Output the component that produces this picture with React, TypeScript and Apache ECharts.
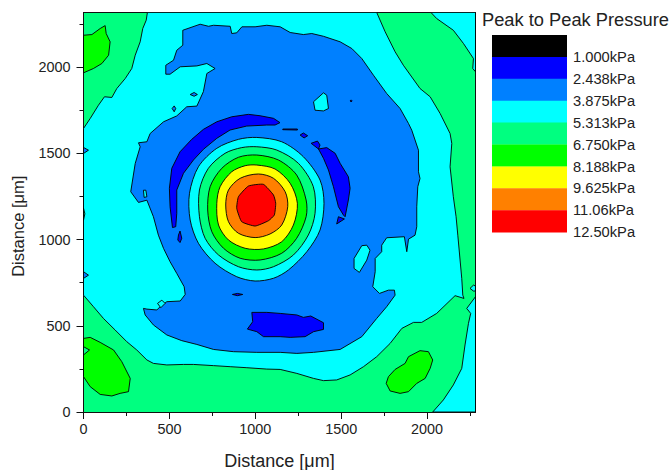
import React, { useEffect, useRef } from "react";
import * as echarts from "echarts";

type P = number[][];

const legendTitle = "Peak to Peak Pressure";
const legendLabels = ["1.000kPa", "2.438kPa", "3.875kPa", "5.313kPa", "6.750kPa", "8.188kPa", "9.625kPa", "11.06kPa", "12.50kPa"];
const legendColors = ["#000000", "#0000FF", "#0080FF", "#00FFFF", "#00FF80", "#00FF00", "#FFFF00", "#FF8000", "#FF0000"];
const majorTicks = [0, 500, 1000, 1500, 2000];
const minorTicksX = [250, 750, 1250, 1750, 2250];
const xMax = 2282;
const yMax = 2318;

const [, DARK, BLUE, CYAN, SPRING, GREEN, YELLOW, ORANGE, RED] = legendColors;

const greenTopLeft: P = [[0,2186],[49,2190],[97,2225],[126,2242],[132,2196],[155,2148],[146,2070],[107,2022],[58,1993],[0,1968]];
const greenBottomLeft: P = [[0,427],[39,433],[97,404],[175,360],[223,292],[272,195],[262,118],[213,108],[165,93],[97,102],[39,147],[0,205]];
const greenBottomRight: P = [[1762,166],[1775,205],[1814,247],[1872,282],[1892,321],[1959,356],[2008,350],[2033,302],[2018,253],[1989,195],[1940,166],[1892,118],[1843,108],[1785,122]];
const springLeftDiamond: P = [[0,379],[35,360],[0,331]];
const cyanMain: P = [[372,2318],[1707,2318],[1756,2206],[1814,2090],[1862,2012],[1959,1877],[2018,1829],[2076,1732],[2134,1616],[2144,1558],[2134,1423],[2153,1249],[2169,1133],[2179,1026],[2202,775],[2208,678],[2215,659],[2163,675],[2056,572],[1969,520],[1921,520],[1853,485],[1785,398],[1707,321],[1630,263],[1552,215],[1474,186],[1397,182],[1339,195],[1242,224],[1145,247],[1067,249],[951,257],[854,263],[757,269],[640,276],[582,276],[485,273],[407,282],[369,302],[310,360],[252,408],[184,476],[116,543],[58,611],[0,678],[0,1645],[39,1703],[87,1780],[122,1829],[165,1825],[194,1877],[243,1935],[281,1993],[301,2070],[330,2148],[345,2225],[365,2273]];
const cyanTopRight: P = [[2023,2318],[2056,2283],[2153,2215],[2212,2138],[2270,2051],[2266,1993],[2282,1974],[2282,2318]];
const cyanBottomRight: P = [[2282,669],[2231,601],[2254,572],[2241,514],[2221,389],[2202,253],[2153,157],[2095,70],[2033,0],[2282,0]];
const cyanRightEdge: P = [[2250,717],[2270,736],[2282,731],[2282,702],[2270,702]];
const springLeftSliver: P = [[0,1183],[8,1150],[0,1113]];
const blueMain: P = [[578,2215],[679,2250],[728,2238],[757,2244],[854,2238],[863,2196],[892,2200],[922,2235],[999,2235],[1067,2244],[1145,2235],[1203,2202],[1280,2190],[1329,2196],[1397,2180],[1494,2148],[1562,2109],[1620,2051],[1688,1954],[1765,1848],[1843,1761],[1892,1674],[1911,1635],[1950,1519],[1950,1394],[1959,1355],[1946,1307],[1940,1191],[1940,1075],[1930,1026],[1892,1003],[1882,930],[1868,1017],[1765,1011],[1736,968],[1736,930],[1698,891],[1698,814],[1684,727],[1723,688],[1775,707],[1810,707],[1814,678],[1765,611],[1707,543],[1620,437],[1494,363],[1339,346],[1242,340],[1145,346],[1009,346],[873,350],[757,363],[660,392],[572,414],[485,447],[407,505],[359,563],[349,601],[369,597],[427,592],[446,611],[485,640],[563,644],[592,682],[586,727],[543,804],[504,872],[466,949],[436,1026],[407,1133],[369,1229],[320,1216],[275,1278],[301,1442],[330,1539],[320,1562],[369,1568],[388,1616],[466,1684],[543,1718],[601,1771],[660,1775],[698,1859],[718,1964],[766,1993],[718,2022],[660,2008],[563,2003],[504,1960],[479,1960],[479,2012],[524,2041],[543,2099],[578,2128]];
const cyanIslandA: P = [[1339,1800],[1397,1852],[1416,1838],[1426,1761],[1397,1747],[1348,1751]];
const cyanIslandB: P = [[1620,965],[1649,968],[1668,939],[1649,881],[1606,810],[1575,833],[1575,891]];
const cyanIslandC: P = [[349,1287],[363,1287],[369,1249],[353,1245]];
const cyanIslandD: P = [[431,630],[456,649],[475,630],[450,605]];
const blueSpotA: P = [[621,1842],[644,1854],[663,1842],[644,1832]];
const blueSpotB: P = [[516,1761],[528,1776],[537,1761],[528,1742]];
const blueEdgeA: P = [[0,1535],[29,1519],[0,1500]];
const blueEdgeB: P = [[0,814],[29,794],[0,775]];
const darkSpot: P = [[1552,1805],[1558,1811],[1564,1805],[1558,1799]];
const darkArcLeft: P = [[1144,1679],[1106,1704],[1028,1719],[960,1727],[863,1713],[776,1684],[698,1640],[630,1582],[562,1510],[514,1414],[500,1298],[504,1191],[518,1070],[537,1075],[543,1153],[543,1288],[582,1385],[640,1462],[698,1524],[776,1588],[853,1636],[950,1659],[1067,1665],[1115,1665]];
const darkLine: P = [[1160,1642],[1245,1642],[1245,1636],[1160,1638]];
const darkDiamond: P = [[1261,1607],[1280,1619],[1305,1603],[1284,1590]];
const darkTriangle: P = [[1325,1559],[1362,1572],[1377,1549],[1368,1526]];
const darkArcRight: P = [[1368,1526],[1416,1534],[1465,1501],[1494,1443],[1542,1365],[1552,1298],[1542,1230],[1523,1133],[1513,1143],[1484,1191],[1455,1307],[1426,1404],[1397,1472]];
const darkTip: P = [[1474,1091],[1484,1133],[1519,1120]];
const darkDrop: P = [[553,1027],[562,1050],[572,1008],[562,983],[549,998]];
const darkBottom: P = [[980,578],[1067,578],[1145,572],[1242,563],[1280,549],[1323,557],[1397,518],[1397,479],[1339,466],[1290,437],[1203,433],[1145,437],[1048,437],[1009,466],[954,481],[985,524]];
const darkSliver: P = [[867,682],[896,688],[927,682],[896,675]];
const ringCyan: P = [[1009,1593],[1154,1568],[1280,1481],[1377,1346],[1400,1211],[1377,1056],[1300,930],[1193,824],[1106,776],[999,760],[892,785],[766,863],[669,979],[621,1114],[617,1269],[669,1423],[776,1530],[902,1582]];
const ringSpring: P = [[1009,1539],[1125,1520],[1251,1443],[1338,1307],[1348,1153],[1309,1027],[1222,911],[1106,843],[1009,824],[902,843],[786,911],[708,1008],[675,1133],[675,1288],[727,1414],[824,1501],[921,1534]];
const ringGreen: P = [[1009,1491],[1135,1462],[1241,1375],[1296,1230],[1296,1133],[1241,1008],[1154,921],[1028,882],[912,892],[815,950],[747,1046],[723,1172],[737,1307],[805,1414],[902,1478]];
const ringYellow: P = [[1009,1433],[1115,1410],[1203,1327],[1245,1211],[1222,1085],[1154,988],[1047,946],[941,950],[844,998],[786,1085],[776,1211],[795,1307],[863,1394],[941,1429]];
const ringOrange: P = [[1018,1381],[1106,1356],[1174,1278],[1189,1191],[1154,1085],[1086,1033],[999,1012],[902,1037],[844,1104],[828,1201],[844,1288],[912,1356]];
const ringRed: P = [[960,1311],[1047,1321],[1106,1259],[1119,1211],[1111,1143],[1077,1110],[999,1079],[921,1104],[892,1182],[902,1249]];

const layers: { color: string; points: P; smooth?: number }[] = [
  { color: GREEN, points: greenTopLeft },
  { color: GREEN, points: greenBottomLeft },
  { color: GREEN, points: greenBottomRight },
  { color: SPRING, points: springLeftDiamond },
  { color: CYAN, points: cyanMain },
  { color: CYAN, points: cyanTopRight },
  { color: CYAN, points: cyanBottomRight },
  { color: CYAN, points: cyanRightEdge },
  { color: SPRING, points: springLeftSliver },
  { color: BLUE, points: blueMain },
  { color: CYAN, points: cyanIslandA },
  { color: CYAN, points: cyanIslandB },
  { color: CYAN, points: cyanIslandC },
  { color: CYAN, points: cyanIslandD },
  { color: BLUE, points: blueSpotA },
  { color: BLUE, points: blueSpotB },
  { color: BLUE, points: blueEdgeA },
  { color: BLUE, points: blueEdgeB },
  { color: DARK, points: darkSpot },
  { color: DARK, points: darkArcLeft },
  { color: DARK, points: darkLine },
  { color: DARK, points: darkDiamond },
  { color: DARK, points: darkTriangle },
  { color: DARK, points: darkArcRight },
  { color: DARK, points: darkTip },
  { color: DARK, points: darkDrop },
  { color: DARK, points: darkBottom },
  { color: DARK, points: darkSliver },
  { color: CYAN, points: ringCyan, smooth: 0.3 },
  { color: SPRING, points: ringSpring, smooth: 0.3 },
  { color: GREEN, points: ringGreen, smooth: 0.3 },
  { color: YELLOW, points: ringYellow, smooth: 0.3 },
  { color: ORANGE, points: ringOrange, smooth: 0.3 },
  { color: RED, points: ringRed, smooth: 0.15 },
];

const FONT = "'Liberation Sans', Arial, sans-serif";
const INK = "#222222";
const GRID = { left: 83.5, top: 12.5, width: 392, height: 399.5 };
const plainNumber = (v: number) => String(v);

export default function App() {
  const ref = useRef<HTMLDivElement>(null);
  useEffect(() => {
    const chart = echarts.init(ref.current!, null, { renderer: "svg" });
    const bandTop = 35;
    const bandH = 21.9;
    const baseAxis = {
      type: "value",
      splitLine: { show: false },
      axisLine: { show: true, onZero: false, lineStyle: { color: "#111", width: 1 } },
    };
    const quiet = { axisLabel: { show: false }, axisTick: { show: false } };
    chart.setOption({
      animation: false,
      backgroundColor: "#fff",
      grid: { ...GRID, show: true, backgroundColor: SPRING, borderWidth: 0, containLabel: false, outerBoundsMode: "none" },
      xAxis: [
        {
          ...baseAxis, min: 0, max: xMax, position: "bottom",
          name: "Distance [\u03bcm]", nameLocation: "middle", nameGap: 40,
          nameTextStyle: { fontFamily: FONT, fontSize: 18, color: INK },
          axisTick: { show: true, length: 7, customValues: majorTicks, lineStyle: { color: "#111" } },
          axisLabel: { show: true, customValues: majorTicks, formatter: plainNumber, margin: 10, fontFamily: FONT, fontSize: 14.4, color: INK },
        },
        {
          ...baseAxis, min: 0, max: xMax, position: "bottom",
          axisTick: { show: true, length: 4, customValues: minorTicksX, lineStyle: { color: "#111" } },
          axisLabel: { show: false },
        },
        { ...baseAxis, min: 0, max: xMax, position: "top", ...quiet },
      ],
      yAxis: [
        {
          ...baseAxis, min: 0, max: yMax, position: "left",
          name: "Distance [\u03bcm]", nameLocation: "middle", nameGap: 57,
          nameTextStyle: { fontFamily: FONT, fontSize: 16.5, color: INK, padding: [0, 28, 0, 0] },
          axisTick: { show: true, length: 7, customValues: majorTicks, lineStyle: { color: "#111" } },
          axisLabel: { show: true, customValues: majorTicks, formatter: plainNumber, margin: 13, fontFamily: FONT, fontSize: 14.4, color: INK },
        },
        {
          ...baseAxis, min: 0, max: yMax, position: "left",
          axisTick: { show: true, length: 4, customValues: minorTicksX, lineStyle: { color: "#111" } },
          axisLabel: { show: false },
        },
        { ...baseAxis, min: 0, max: yMax, position: "right", ...quiet },
      ],
      series: [
        {
          type: "custom",
          clip: true,
          xAxisIndex: 0,
          yAxisIndex: 0,
          silent: true,
          data: layers.map((l, i) => [l.points[0][0], l.points[0][1], i]),
          renderItem: (_p: any, api: any) => {
            const layer = layers[api.value(2)];
            return {
              type: "polygon",
              shape: { points: layer.points.map((pt) => api.coord(pt)), smooth: layer.smooth ?? 0 },
              style: { fill: layer.color, stroke: "#000", lineWidth: 0.9 },
            };
          },
        },
      ],
      graphic: [
        {
          type: "text", x: 482, y: 10,
          style: { text: legendTitle, fontFamily: FONT, fontSize: 18.3, fill: INK },
        },
        ...legendColors.map((c, i) => ({
          type: "rect", shape: { x: 492, y: bandTop + i * bandH, width: 75, height: bandH + 0.3 },
          style: { fill: c },
        })),
        ...legendLabels.map((t, i) => ({
          type: "text", x: 573, y: bandTop + 22 + i * bandH,
          style: { text: t, fontFamily: FONT, fontSize: 14.7, fill: INK, verticalAlign: "middle" },
        })),
      ],
    });
    return () => chart.dispose();
  }, []);
  return <div ref={ref} style={{ position: "fixed", left: 0, top: 0, width: 672, height: 470 }} />;
}
